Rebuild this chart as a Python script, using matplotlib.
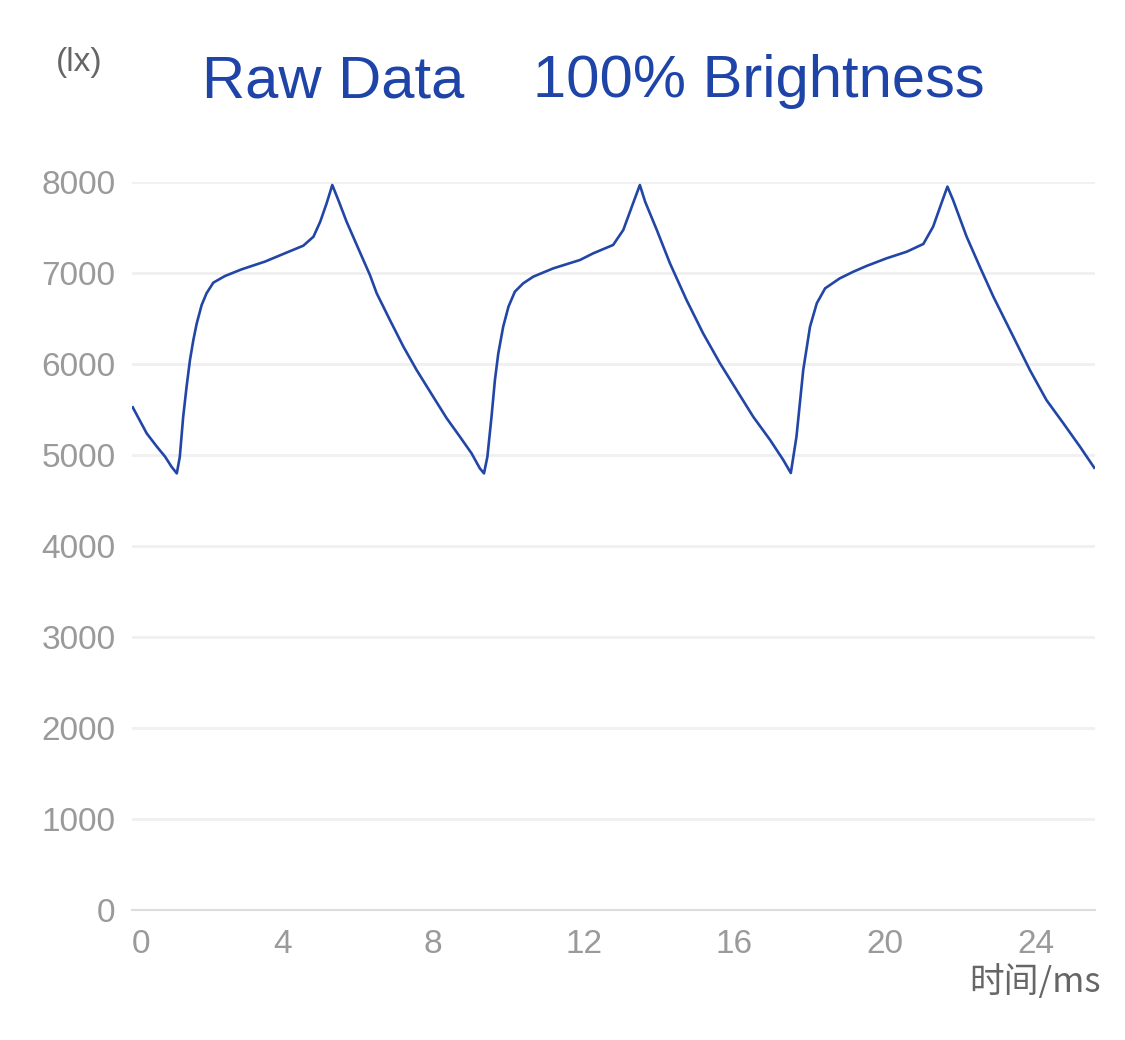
import matplotlib
matplotlib.use("Agg")
import matplotlib.pyplot as plt

# waveform (time in ms, illuminance in lx)
time_ms = [0.02, 0.39, 0.66, 0.88, 1.05, 1.19, 1.27, 1.36, 1.45, 1.54, 1.63, 1.72,
           1.85, 1.98, 2.16, 2.47, 2.91, 3.53, 4.11, 4.55, 4.82, 5.00, 5.17, 5.32,
           5.48, 5.70, 5.97, 6.32, 6.50, 6.85, 7.21, 7.56, 8.00, 8.36, 8.71, 9.02,
           9.24, 9.35,
           9.44, 9.55, 9.64, 9.73, 9.86, 10.00, 10.17, 10.39, 10.66, 11.19, 11.90,
           12.25, 12.78, 13.05, 13.31, 13.49, 13.63, 13.94, 14.29, 14.73, 15.17,
           15.62, 16.06, 16.50, 16.95, 17.30, 17.50,
           17.65, 17.83, 18.01, 18.19, 18.41, 18.80, 19.16, 19.51, 20.04, 20.58,
           21.02, 21.28, 21.50, 21.66, 21.81, 22.17, 22.52, 22.88, 23.41, 23.85,
           24.29, 24.74, 25.18, 25.56]
lux = [5524, 5238, 5092, 4981, 4871, 4798, 4981, 5421, 5751, 6044, 6264, 6447,
       6648, 6777, 6894, 6967, 7040, 7125, 7225, 7300, 7399, 7564, 7766, 7967,
       7802, 7564, 7308, 6978, 6777, 6484, 6190, 5934, 5641, 5403, 5201, 5018,
       4853, 4798,
       4981, 5421, 5824, 6117, 6410, 6630, 6795, 6886, 6960, 7051, 7143,
       7216, 7308, 7473, 7766, 7967, 7784, 7473, 7106, 6703, 6337,
       6007, 5714, 5421, 5165, 4945, 4802,
       5201, 5934, 6410, 6667, 6831, 6941, 7014, 7077, 7161, 7234,
       7319, 7509, 7766, 7949, 7802, 7399, 7069, 6740, 6300, 5934,
       5604, 5348, 5092, 4860]

x_ticks = [0, 4, 8, 12, 16, 20, 24]
y_ticks = [0, 1000, 2000, 3000, 4000, 5000, 6000, 7000, 8000]

LINE = '#2246a6'
TITLE = '#1e44a8'
TICK = '#9a9a9a'
LABEL = '#666666'

plt.rcParams['font.family'] = ['Liberation Sans', 'Noto Sans CJK SC', 'DejaVu Sans']

fig = plt.figure(figsize=(11.25, 10.4), dpi=100)
ax = fig.add_axes([132 / 1125, 130 / 1040, (1095 - 132) / 1125, (910 - 182) / 1040])

ax.plot(time_ms, lux, color=LINE, linewidth=1.9, solid_joinstyle='round')

ax.set_xlim(0, 25.58)
ax.set_ylim(0, 8000)
ax.set_xticks(x_ticks)
ax.set_yticks(y_ticks)
ax.set_xticklabels([str(t) for t in x_ticks])
ax.set_yticklabels([str(t) for t in y_ticks])

ax.grid(axis='y', color='#f0f0f0', linewidth=2)
ax.set_axisbelow(True)
for side in ['top', 'right', 'left']:
    ax.spines[side].set_visible(False)
ax.spines['bottom'].set_color('#dcdcdc')
ax.spines['bottom'].set_linewidth(1.5)

ax.tick_params(axis='both', length=0, colors=TICK, labelsize=24)
ax.tick_params(axis='y', pad=12)
ax.tick_params(axis='x', pad=14)
# first x label sits left-aligned on the axis start
ax.get_xticklabels()[0].set_horizontalalignment('left')

# titles and unit labels
fig.text(202 / 1125, 1 - 97 / 1040, 'Raw Data', color=TITLE, fontsize=43,
         ha='left', va='baseline')
fig.text(533 / 1125, 1 - 97 / 1040, '100% Brightness', color=TITLE, fontsize=43,
         ha='left', va='baseline')
fig.text(79 / 1125, 1 - 62 / 1040, '(lx)', color=LABEL, fontsize=24,
         ha='center', va='center')
fig.text(1101 / 1125, 1 - 982 / 1040, '时间/ms', color=LABEL, fontsize=25,
         ha='right', va='center', family=['Noto Sans CJK SC', 'DejaVu Sans'])

fig.savefig('out.png', dpi=100, facecolor='white')
